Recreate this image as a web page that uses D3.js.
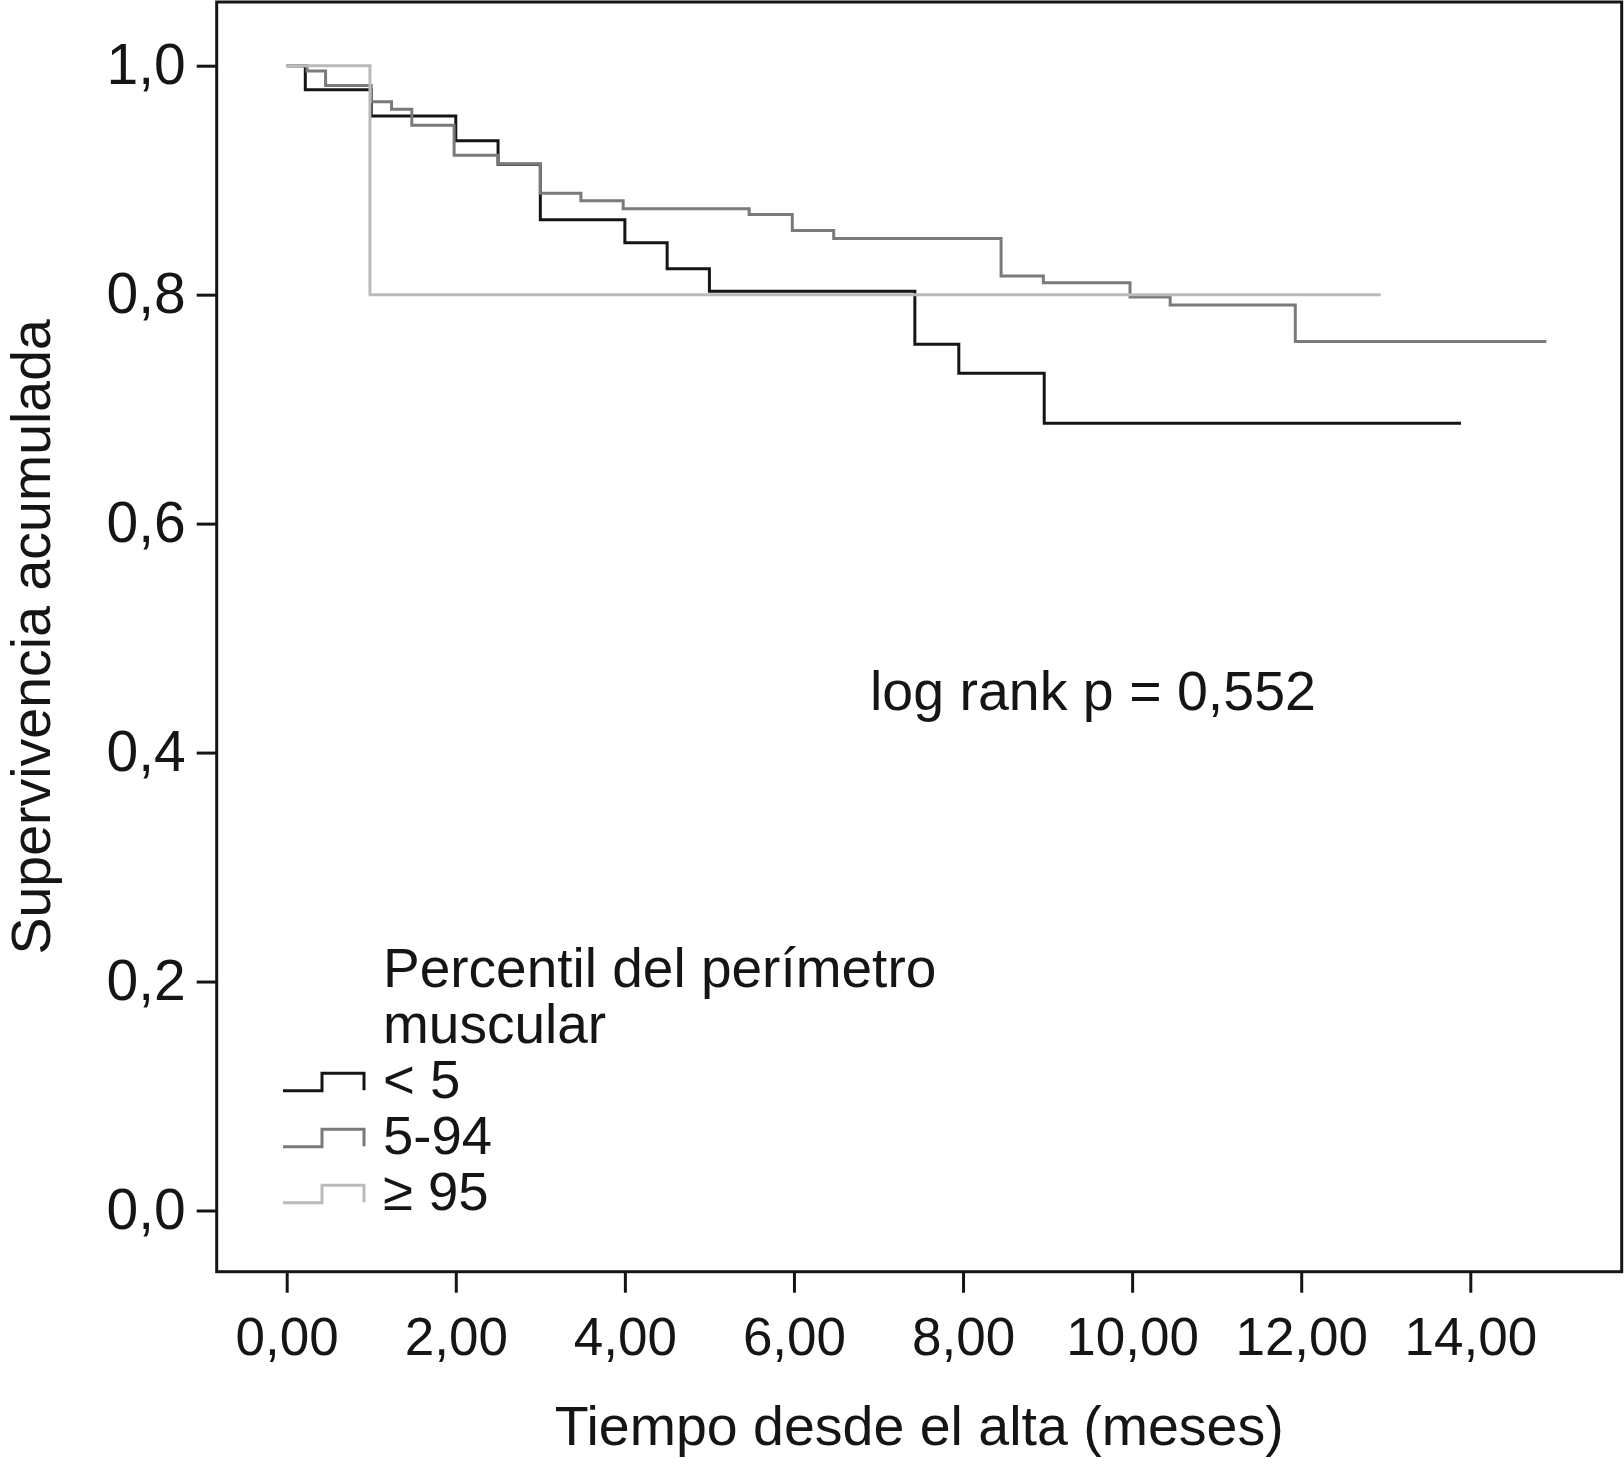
<!DOCTYPE html>
<html>
<head>
<meta charset="utf-8">
<script src="https://cdn.jsdelivr.net/npm/d3@7"></script>
<style>
  body { margin: 0; background: #fff; }
  svg text { font-family: "Liberation Sans", Arial, Helvetica, sans-serif; fill: #151515; }
</style>
</head>
<body>
<div id="chart"></div>
<script>
// Kaplan-Meier steps (time in months, cumulative survival)
const groupLabels = ["< 5", "5-94", "\u2265 95"];
const groupColors = ["#151515", "#7a7a7a", "#bababa"];

const timesLow = [0, 0.22, 1.0, 2.0, 2.5, 3.0, 4.0, 4.5, 5.0, 7.43, 7.95, 8.96, 13.89];
const survLow  = [1.0, 0.979, 0.956, 0.9345, 0.914, 0.8655, 0.8454, 0.8227, 0.803, 0.7566, 0.7313, 0.6876, 0.6876];

const timesMid = [0, 0.24, 0.46, 1.0, 1.24, 1.48, 1.98, 2.5, 3.0, 3.48, 3.98, 5.47, 5.98, 6.47, 8.45, 8.95, 9.975, 10.45, 11.93, 14.9];
const survMid  = [1.0, 0.9954, 0.9826, 0.9686, 0.962, 0.948, 0.9217, 0.9144, 0.8885, 0.882, 0.875, 0.870, 0.856, 0.849, 0.8163, 0.8105, 0.798, 0.791, 0.759, 0.759];

const timesHigh = [0, 0.985, 12.94];
const survHigh  = [1.0, 0.80, 0.80];

const xTicks = [0, 2, 4, 6, 8, 10, 12, 14];
const yTicks = [0, 0.2, 0.4, 0.6, 0.8, 1.0];

const legendTitle = ["Percentil del perímetro", "muscular"];
const pText = "log rank p = 0,552";

const W = 1624, H = 1465;
const frame = { left: 216.7, top: 2, right: 1621.7, bottom: 1271.7 };

const svg = d3.select("#chart").append("svg")
    .attr("width", W)
    .attr("height", H);

const x = d3.scaleLinear().domain([0, 14]).range([286.7, 1470.3]);
const y = d3.scaleLinear().domain([0, 1]).range([1210.5, 65.7]);

const comma = (f) => (d) => d3.format(f)(d).replace(".", ",");

// frame
svg.append("rect")
    .attr("x", frame.left)
    .attr("y", frame.top)
    .attr("width", frame.right - frame.left)
    .attr("height", frame.bottom - frame.top)
    .attr("fill", "none")
    .attr("stroke", "#151515")
    .attr("stroke-width", 3);

// y axis
const yAxis = svg.append("g")
    .attr("transform", `translate(${frame.left},0)`)
    .call(d3.axisLeft(y).tickValues(yTicks).tickFormat(comma(".1f")).tickSize(20).tickPadding(11));
yAxis.select(".domain").remove();
yAxis.selectAll(".tick line").attr("stroke", "#151515").attr("stroke-width", 3);
yAxis.selectAll(".tick text")
    .attr("font-size", 57)
    .attr("fill", "#151515")
    .style("font-family", "'Liberation Sans', Arial, sans-serif");

// x axis
const xAxis = svg.append("g")
    .attr("transform", `translate(0,${frame.bottom})`)
    .call(d3.axisBottom(x).tickValues(xTicks).tickFormat(comma(".2f")).tickSize(21));
xAxis.select(".domain").remove();
xAxis.selectAll(".tick line").attr("stroke", "#151515").attr("stroke-width", 3);
xAxis.selectAll(".tick text")
    .attr("y", 83.5)
    .attr("dy", null)
    .attr("font-size", 53)
    .attr("fill", "#151515")
    .style("font-family", "'Liberation Sans', Arial, sans-serif");

// axis titles
svg.append("text")
    .attr("x", (frame.left + frame.right) / 2)
    .attr("y", 1445)
    .attr("text-anchor", "middle")
    .attr("font-size", 55.5)
    .text("Tiempo desde el alta (meses)");

svg.append("text")
    .attr("transform", `translate(50,${(frame.top + frame.bottom) / 2}) rotate(-90)`)
    .attr("text-anchor", "middle")
    .attr("font-size", 55.5)
    .text("Supervivencia acumulada");

// survival curves (drawn in SPSS order, last group on top)
const series = [
    d3.zip(timesLow, survLow),
    d3.zip(timesMid, survMid),
    d3.zip(timesHigh, survHigh)
];

const line = d3.line()
    .x(d => x(d[0]))
    .y(d => y(d[1]))
    .curve(d3.curveStepAfter);

svg.selectAll(".km")
    .data(series)
    .enter()
    .append("path")
    .attr("class", "km")
    .attr("d", line)
    .attr("fill", "none")
    .attr("stroke", (d, i) => groupColors[i])
    .attr("stroke-width", 3);

// log rank annotation
svg.append("text")
    .attr("x", 870)
    .attr("y", 710)
    .attr("font-size", 55.5)
    .text(pText);

// legend
const legend = svg.append("g").attr("transform", "translate(383,0)");

legend.selectAll(".lt")
    .data(legendTitle)
    .enter()
    .append("text")
    .attr("x", 0)
    .attr("y", (d, i) => 987 + i * 56.3)
    .attr("font-size", 55)
    .text(d => d);

const items = legend.selectAll(".li")
    .data(groupLabels)
    .enter()
    .append("g")
    .attr("transform", (d, i) => `translate(0,${1098.3 + i * 56})`);

items.append("path")
    .attr("d", "M-100,-7.6 H-61 V-25 H-19 V-8")
    .attr("fill", "none")
    .attr("stroke", (d, i) => groupColors[i])
    .attr("stroke-width", 3);

items.append("text")
    .attr("x", 0)
    .attr("y", 0)
    .attr("font-size", 54.5)
    .text(d => d);
</script>
</body>
</html>
